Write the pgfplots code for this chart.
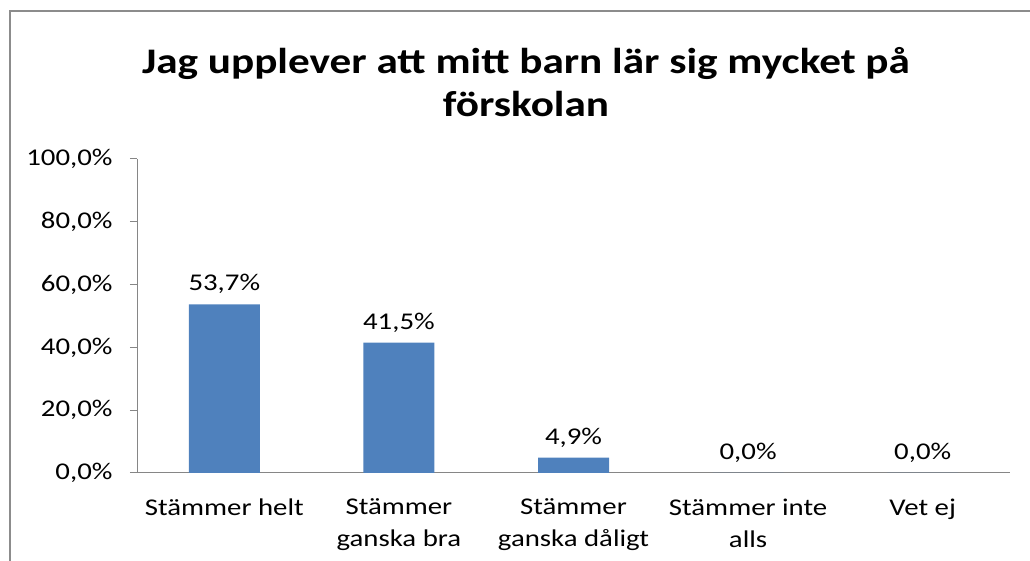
\documentclass[border=0pt]{standalone}
\usepackage{fontspec}
\setmainfont{Carlito}[FakeStretch=1.2]
\usepackage{pgfplots}
\pgfplotsset{compat=1.18}
\definecolor{barblue}{HTML}{4F81BD}
\definecolor{axisgray}{HTML}{868686}
\definecolor{framegray}{HTML}{8C8C8C}
\begin{document}
\begin{tikzpicture}[x=1pt,y=1pt]
\useasboundingbox (0,0) rectangle (1030,561);
\draw[framegray, line width=2pt] (10,0) -- (10,550) -- (1031,550);
\node[font=\fontsize{36}{43}\selectfont\bfseries, align=center] at (526,479) {Jag upplever att mitt barn lär sig mycket på\\förskolan};
\begin{axis}[
  at={(137pt,88pt)}, anchor=south west,
  scale only axis, width=873pt, height=314pt,
  xmin=-0.5, xmax=4.5, ymin=0, ymax=100,
  axis x line=bottom, axis y line=left,
  axis line style={-, axisgray, line width=1pt},
  ybar, bar width=71pt,
  ytick={0,20,...,100},
  yticklabel={\pgfmathprintnumber[fixed, fixed zerofill, precision=1, use comma]{\tick}\%},
  /pgf/number format/assume math mode=true,
  ytick style={axisgray, line width=1pt},
  tick align=outside, major tick length=7pt,
  xtick={0,1,2,3,4},
  xticklabels={Stämmer helt, Stämmer\\ganska bra, Stämmer\\ganska dåligt, Stämmer inte\\alls, Vet ej},
  x tick style={draw=none},
  minor xtick={-0.5,0.5,...,4.5},
  minor x tick style={axisgray, line width=1pt},
  minor tick length=7pt,
  tick label style={font=\fontsize{24}{32}\selectfont, text=black},
  x tick label style={align=center, anchor=north, yshift=-15pt},
  y tick label style={xshift=-14pt},
  nodes near coords={\pgfmathprintnumber[fixed, fixed zerofill, precision=1, use comma]{\pgfplotspointmeta}\%},
  nodes near coords style={font=\fontsize{24}{28}\selectfont, anchor=south, yshift=7pt, /pgf/number format/assume math mode=true},
  clip=false,
]
\addplot[fill=barblue, draw=none] coordinates {(0,53.7) (1,41.5) (2,4.9) (3,0) (4,0)};
\end{axis}
\end{tikzpicture}
\end{document}
